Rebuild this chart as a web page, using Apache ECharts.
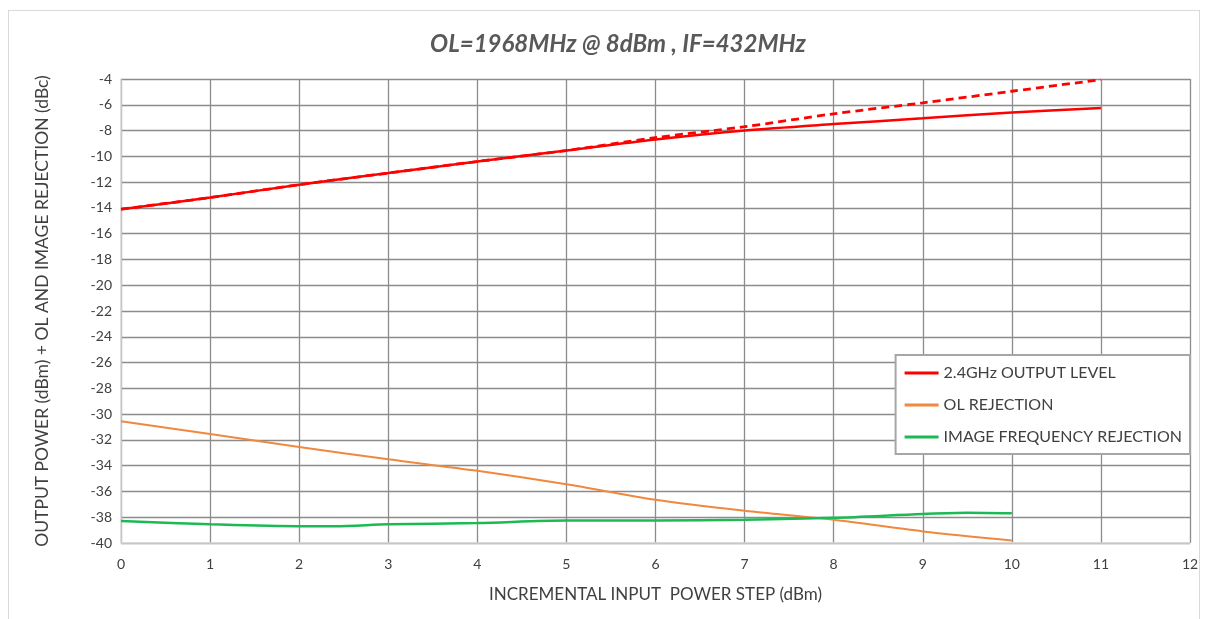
<!DOCTYPE html>
<html>
<head>
<meta charset="utf-8">
<script src="https://cdn.jsdelivr.net/npm/echarts@6/dist/echarts.min.js"></script>
<style>
html,body{margin:0;padding:0;background:#fff;}
#frame{position:absolute;left:8px;top:10px;width:1192px;height:620px;border:1px solid #d9d9d9;box-sizing:border-box;}
#c{position:absolute;left:0;top:0;width:1208px;height:619px;}
</style>
</head>
<body>
<div id="frame"></div>
<div id="c"></div>
<script>
const titleText = 'OL=1968MHz @ 8dBm , IF=432MHz';
const xAxisName = 'INCREMENTAL INPUT  POWER STEP (dBm)';
const yAxisName = 'OUTPUT POWER (dBm) + OL AND IMAGE REJECTION (dBc)';

const steps = [0, 1, 2, 3, 4, 5, 6, 7, 8, 9, 10, 11];
const outputLevel = [-14.1, -13.2, -12.2, -11.3, -10.4, -9.55, -8.7, -8.0, -7.5, -7.05, -6.6, -6.25];
const outputLinear = [-14.1, -13.2, -12.2, -11.3, -10.4, -9.55, -8.55, -7.7, -6.7, -5.85, -4.95, -4.05];
const olSteps = [0, 1, 2, 3, 4, 5, 6, 7, 8, 9, 10];
const olRejection = [-30.55, -31.55, -32.55, -33.5, -34.4, -35.45, -36.65, -37.5, -38.2, -39.1, -39.8];
const imgSteps = [0, 1, 2, 2.4, 3, 4, 5, 6, 7, 8, 9, 9.5, 10];
const imageRejection = [-38.3, -38.55, -38.7, -38.7, -38.55, -38.45, -38.25, -38.25, -38.2, -38.05, -37.75, -37.65, -37.7];

const pairs = (xs, ys) => xs.map((x, i) => [x, ys[i]]);

const font = 'Lato, "Open Sans", sans-serif';
const chart = echarts.init(document.getElementById('c'));
chart.setOption({
  animation: false,
  backgroundColor: 'transparent',
  title: {
    text: titleText,
    left: 613, top: 27, textAlign: 'center',
    textStyle: {fontFamily: font, fontSize: 24, fontWeight: 'bold', fontStyle: 'italic', color: '#595959'}
  },
  grid: {left: 121, right: 18, top: 79, bottom: 76, containLabel: false},
  legend: {
    right: 18, top: 355, orient: 'vertical',
    padding: [10, 8, 9, 9],
    itemGap: 16,
    itemWidth: 34, itemHeight: 3,
    backgroundColor: '#fff',
    borderColor: '#a6a6a6', borderWidth: 2,
    textStyle: {fontFamily: font, fontSize: 16, color: '#404040'},
    data: [
      {name: '2.4GHz OUTPUT LEVEL', icon: 'rect'},
      {name: 'OL REJECTION', icon: 'rect'},
      {name: 'IMAGE FREQUENCY REJECTION', icon: 'rect'}
    ]
  },
  xAxis: {
    type: 'value', min: 0, max: 12, interval: 1,
    name: xAxisName, nameLocation: 'middle', nameGap: 43,
    nameTextStyle: {fontFamily: font, fontSize: 17, color: '#404040'},
    axisLine: {show: true, lineStyle: {color: '#d9d9d9', width: 1.5}},
    axisTick: {show: false},
    axisLabel: {fontFamily: font, fontSize: 14, color: '#404040', margin: 14},
    splitLine: {show: true, lineStyle: {color: '#8c8c8c', width: 1.3}}
  },
  yAxis: {
    type: 'value', min: -40, max: -4, interval: 2,
    name: yAxisName, nameLocation: 'middle', nameGap: 70, nameRotate: 90,
    nameTextStyle: {fontFamily: font, fontSize: 17.5, color: '#404040'},
    axisLine: {show: true, lineStyle: {color: '#d9d9d9', width: 1.5}},
    axisTick: {show: false},
    axisLabel: {fontFamily: font, fontSize: 14, color: '#404040', margin: 9},
    splitLine: {show: true, lineStyle: {color: '#8c8c8c', width: 1.3}}
  },
  series: [
    {
      name: 'linear', type: 'line', data: pairs(steps, outputLinear),
      smooth: 0.3, showSymbol: false, z: 2,
      lineStyle: {color: '#ff0000', width: 2.8, type: [8, 5]}, itemStyle: {color: '#ff0000'}
    },
    {
      name: '2.4GHz OUTPUT LEVEL', type: 'line', data: pairs(steps, outputLevel),
      smooth: 0.3, showSymbol: false, z: 3,
      lineStyle: {color: '#ff0000', width: 2.5}, itemStyle: {color: '#ff0000'}
    },
    {
      name: 'OL REJECTION', type: 'line', data: pairs(olSteps, olRejection),
      smooth: 0.3, showSymbol: false,
      lineStyle: {color: '#f0883e', width: 2}, itemStyle: {color: '#f0883e'}
    },
    {
      name: 'IMAGE FREQUENCY REJECTION', type: 'line', data: pairs(imgSteps, imageRejection),
      smooth: 0.3, showSymbol: false,
      lineStyle: {color: '#1db954', width: 2.5}, itemStyle: {color: '#1db954'}
    }
  ]
});
</script>
</body>
</html>
